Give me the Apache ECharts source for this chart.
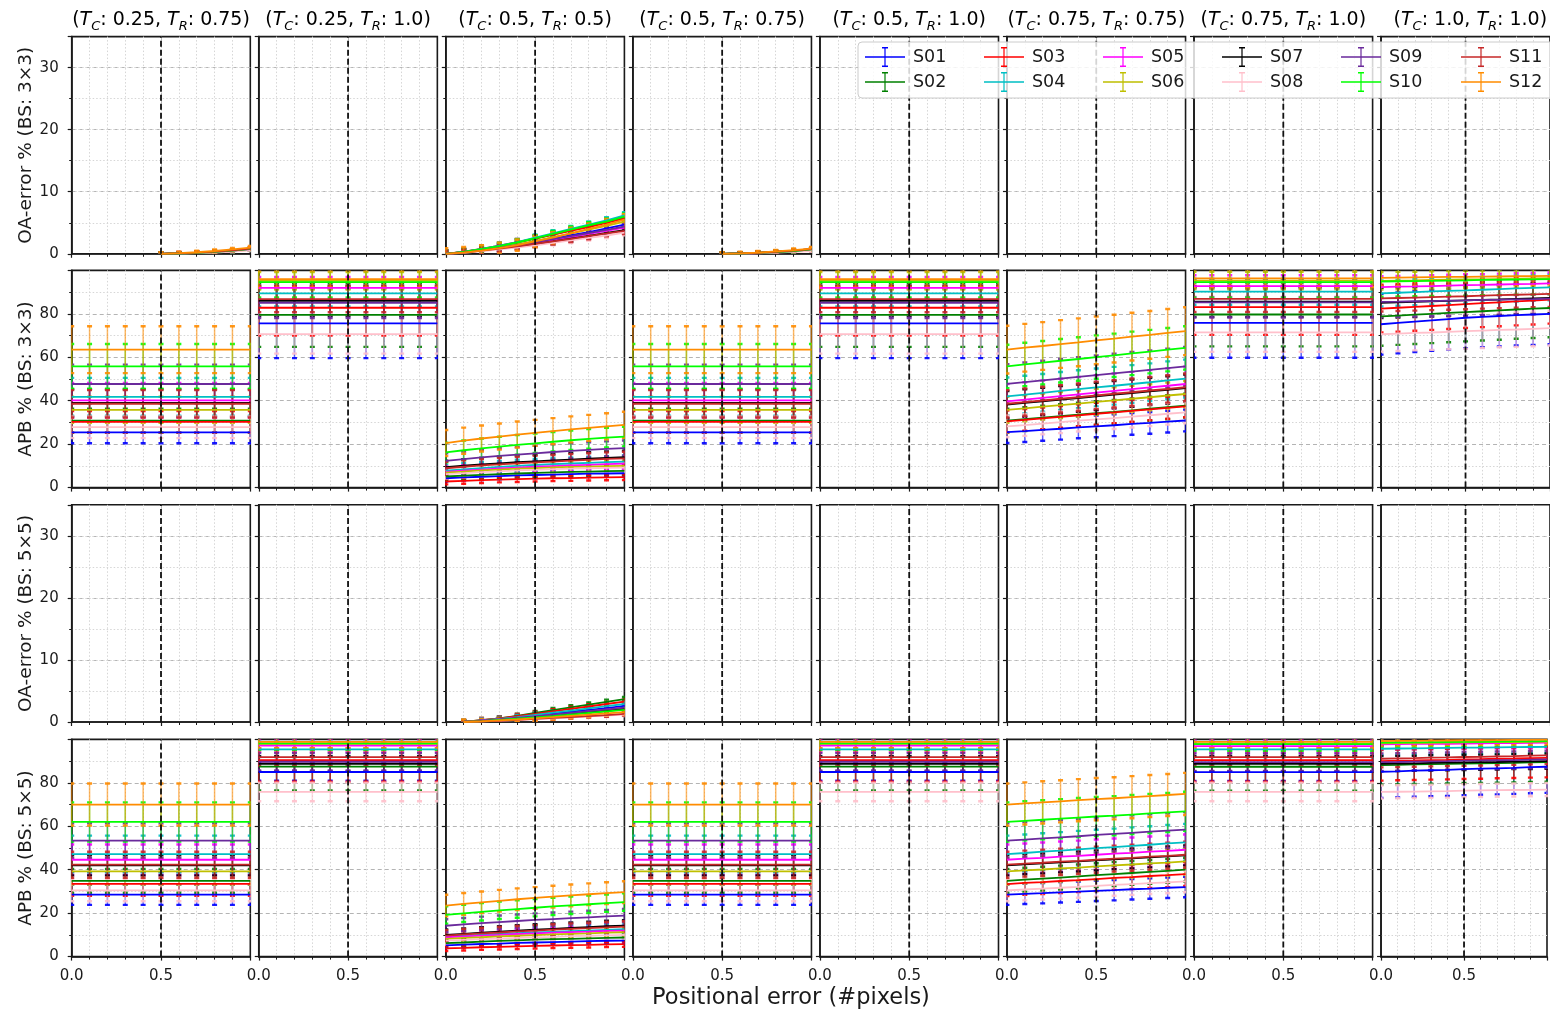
<!DOCTYPE html>
<html>
<head>
<meta charset="utf-8">
<script src="https://cdn.jsdelivr.net/npm/echarts/dist/echarts.min.js"></script>
<style>
  html, body { margin: 0; padding: 0; background: #ffffff; }
  #chart { width: 1550px; height: 1015px; }
</style>
</head>
<body>
<div id="chart"></div>
<script>
// ---------------------------------------------------------------------------
// Data
// ---------------------------------------------------------------------------
const posErr = [0.0, 0.1, 0.2, 0.3, 0.4, 0.5, 0.6, 0.7, 0.8, 0.9, 1.0];
const refPosErr = 0.5;

const seriesNames = ['S01', 'S02', 'S03', 'S04', 'S05', 'S06', 'S07', 'S08', 'S09', 'S10', 'S11', 'S12'];

const thrC = ['0.25', '0.25', '0.5', '0.5', '0.5', '0.75', '0.75', '1.0'];
const thrR = ['0.75', '1.0', '0.5', '0.75', '1.0', '0.75', '1.0', '1.0'];

const rowLabels = ['OA-error % (BS: 3×3)', 'APB % (BS: 3×3)', 'OA-error % (BS: 5×5)', 'APB % (BS: 5×5)'];
const xTitle = 'Positional error (#pixels)';

const oaMax = 35, oaStep = 10;
const apbMax = 100, apbStep = 20;

// OA-error, block size 3x3
const oa3_c1 = [
  [null,null,null,null,null,0,0.05,0.15,0.3,0.45,0.7],
  [null,null,null,null,null,0,0.05,0.15,0.3,0.5,0.75],
  [null,null,null,null,null,0,0.08,0.2,0.35,0.55,0.85],
  [null,null,null,null,null,0,0.05,0.15,0.3,0.5,0.75],
  [null,null,null,null,null,0,0.05,0.15,0.3,0.45,0.7],
  [null,null,null,null,null,0,0.05,0.12,0.25,0.45,0.65],
  [null,null,null,null,null,0,0.05,0.15,0.3,0.5,0.8],
  [null,null,null,null,null,0,0.03,0.1,0.2,0.35,0.55],
  [null,null,null,null,null,0,0.05,0.15,0.3,0.5,0.75],
  [null,null,null,null,null,0,0.05,0.15,0.3,0.5,0.8],
  [null,null,null,null,null,0,0.08,0.2,0.35,0.55,0.85],
  [null,null,null,null,null,0,0.1,0.25,0.45,0.7,1.0]
];
const oa3_c1_err = [0.15,0.15,0.2,0.15,0.15,0.15,0.2,0.1,0.15,0.2,0.2,0.25];

const oa3_c3 = [
  [0,0.25,0.6,1.0,1.45,1.95,2.45,3.0,3.5,4.1,4.7],
  [0,0.3,0.75,1.25,1.8,2.45,3.1,3.8,4.5,5.1,5.8],
  [0,0.35,0.8,1.3,1.9,2.5,3.1,3.7,4.3,5.0,5.7],
  [0,0.3,0.8,1.3,1.9,2.6,3.3,4.0,4.7,5.4,6.2],
  [0,0.25,0.55,0.95,1.35,1.8,2.25,2.7,3.2,3.7,4.2],
  [0,0.25,0.6,1.0,1.5,2.1,2.7,3.3,3.9,4.5,5.2],
  [0,0.2,0.5,0.85,1.2,1.6,2.0,2.45,2.9,3.35,3.8],
  [0,0.15,0.4,0.7,1.0,1.35,1.75,2.15,2.55,2.95,3.4],
  [0,0.25,0.6,1.0,1.4,1.85,2.35,2.85,3.35,3.85,4.4],
  [0,0.3,0.75,1.25,1.85,2.5,3.2,3.9,4.6,5.2,6.0],
  [0,0.2,0.5,0.85,1.2,1.6,2.0,2.4,2.85,3.3,3.7],
  [0,0.2,0.5,0.9,1.4,2.0,2.6,3.3,4.0,4.7,5.5]
];
const oa3_c3_err = [0.5,0.5,0.5,0.5,0.5,0.5,0.5,0.4,0.5,0.5,0.5,0.9];

const oa3_c4 = [
  [null,null,null,null,null,0,0.04,0.12,0.25,0.4,0.6],
  [null,null,null,null,null,0,0.05,0.14,0.28,0.45,0.7],
  [null,null,null,null,null,0,0.06,0.16,0.3,0.5,0.75],
  [null,null,null,null,null,0,0.05,0.14,0.28,0.45,0.7],
  [null,null,null,null,null,0,0.04,0.12,0.25,0.4,0.6],
  [null,null,null,null,null,0,0.04,0.1,0.22,0.38,0.55],
  [null,null,null,null,null,0,0.05,0.15,0.3,0.5,0.75],
  [null,null,null,null,null,0,0.03,0.08,0.18,0.3,0.45],
  [null,null,null,null,null,0,0.05,0.14,0.28,0.45,0.7],
  [null,null,null,null,null,0,0.05,0.14,0.28,0.45,0.7],
  [null,null,null,null,null,0,0.06,0.16,0.3,0.5,0.75],
  [null,null,null,null,null,0,0.08,0.2,0.38,0.6,0.85]
];
const oa3_c4_err = [0.15,0.15,0.2,0.15,0.15,0.15,0.2,0.1,0.15,0.2,0.2,0.25];

// APB, block size 3x3
const apb3_c1 = [
  [25.4,25.4,25.4,25.4,25.4,25.4,25.4,25.4,25.4,25.4,25.4],
  [30.8,30.8,30.8,30.8,30.8,30.8,30.8,30.8,30.8,30.8,30.8],
  [30.3,30.3,30.3,30.3,30.3,30.3,30.3,30.3,30.3,30.3,30.3],
  [41.8,41.8,41.8,41.8,41.8,41.8,41.8,41.8,41.8,41.8,41.8],
  [40.2,40.2,40.2,40.2,40.2,40.2,40.2,40.2,40.2,40.2,40.2],
  [35.8,35.8,35.8,35.8,35.8,35.8,35.8,35.8,35.8,35.8,35.8],
  [39.0,39.0,39.0,39.0,39.0,39.0,39.0,39.0,39.0,39.0,39.0],
  [27.8,27.8,27.8,27.8,27.8,27.8,27.8,27.8,27.8,27.8,27.8],
  [47.7,47.7,47.7,47.7,47.7,47.7,47.7,47.7,47.7,47.7,47.7],
  [55.8,55.8,55.8,55.8,55.8,55.8,55.8,55.8,55.8,55.8,55.8],
  [38.6,38.6,38.6,38.6,38.6,38.6,38.6,38.6,38.6,38.6,38.6],
  [63.5,63.5,63.5,63.5,63.5,63.5,63.5,63.5,63.5,63.5,63.5]
];
const apb3_c1_err = [5.0,5.5,5.0,8.7,8.0,6.0,6.3,5.0,8.9,10.3,6.3,10.8];

const apb3_c2 = [
  [75.6,75.6,75.6,75.6,75.6,75.6,75.6,75.6,75.6,75.6,75.6],
  [79.5,79.5,79.5,79.5,79.5,79.5,79.5,79.5,79.5,79.5,79.5],
  [82.8,82.8,82.8,82.8,82.8,82.8,82.8,82.8,82.8,82.8,82.8],
  [89.4,89.4,89.4,89.4,89.4,89.4,89.4,89.4,89.4,89.4,89.4],
  [92.0,92.0,92.0,92.0,92.0,92.0,92.0,92.0,92.0,92.0,92.0],
  [95.2,95.2,95.2,95.2,95.2,95.2,95.2,95.2,95.2,95.2,95.2],
  [86.0,86.0,86.0,86.0,86.0,86.0,86.0,86.0,86.0,86.0,86.0],
  [70.7,70.7,70.7,70.7,70.7,70.7,70.7,70.7,70.7,70.7,70.7],
  [85.1,85.1,85.1,85.1,85.1,85.1,85.1,85.1,85.1,85.1,85.1],
  [94.6,94.6,94.6,94.6,94.6,94.6,94.6,94.6,94.6,94.6,94.6],
  [86.8,86.8,86.8,86.8,86.8,86.8,86.8,86.8,86.8,86.8,86.8],
  [96.0,96.0,96.0,96.0,96.0,96.0,96.0,96.0,96.0,96.0,96.0]
];
const apb3_c2_err = [16.0,14.7,12.8,6.0,5.0,4.0,7.0,9.0,7.0,7.0,6.0,4.0];

const apb3_c3 = [
  [4.3,4.7,5.0,5.3,5.6,5.8,6.0,6.2,6.4,6.5,6.6],
  [5.1,5.5,5.9,6.2,6.5,6.8,7.0,7.2,7.4,7.6,7.7],
  [2.8,3.1,3.4,3.7,3.9,4.1,4.3,4.4,4.6,4.7,4.8],
  [7.8,8.4,9.0,9.5,10.0,10.4,10.8,11.1,11.4,11.7,12.0],
  [7.2,7.8,8.3,8.8,9.2,9.6,9.9,10.2,10.5,10.8,11.0],
  [6.9,7.4,7.9,8.3,8.7,9.0,9.3,9.5,9.7,9.9,10.0],
  [9.4,10.1,10.7,11.2,11.7,12.1,12.5,12.9,13.3,13.7,14.0],
  [6.2,6.7,7.1,7.5,7.9,8.2,8.5,8.7,8.9,9.1,9.2],
  [12.3,13.1,13.9,14.6,15.2,15.8,16.4,16.9,17.4,17.8,18.2],
  [16.2,17.2,18.1,18.9,19.7,20.4,21.1,21.8,22.4,23.0,23.5],
  [8.9,9.6,10.2,10.7,11.2,11.6,12.0,12.4,12.8,13.2,13.5],
  [20.5,21.6,22.6,23.5,24.4,25.2,26.0,26.8,27.5,28.2,28.9]
];
const apb3_c3_err = [1.5,1.8,1.3,2.8,2.5,2.4,3.0,2.0,3.5,4.5,3.0,6.0];

const apb3_c4 = [
  [25.4,25.4,25.4,25.4,25.4,25.4,25.4,25.4,25.4,25.4,25.4],
  [30.8,30.8,30.8,30.8,30.8,30.8,30.8,30.8,30.8,30.8,30.8],
  [30.3,30.3,30.3,30.3,30.3,30.3,30.3,30.3,30.3,30.3,30.3],
  [41.8,41.8,41.8,41.8,41.8,41.8,41.8,41.8,41.8,41.8,41.8],
  [40.2,40.2,40.2,40.2,40.2,40.2,40.2,40.2,40.2,40.2,40.2],
  [35.8,35.8,35.8,35.8,35.8,35.8,35.8,35.8,35.8,35.8,35.8],
  [39.0,39.0,39.0,39.0,39.0,39.0,39.0,39.0,39.0,39.0,39.0],
  [27.8,27.8,27.8,27.8,27.8,27.8,27.8,27.8,27.8,27.8,27.8],
  [47.7,47.7,47.7,47.7,47.7,47.7,47.7,47.7,47.7,47.7,47.7],
  [55.8,55.8,55.8,55.8,55.8,55.8,55.8,55.8,55.8,55.8,55.8],
  [38.6,38.6,38.6,38.6,38.6,38.6,38.6,38.6,38.6,38.6,38.6],
  [63.5,63.5,63.5,63.5,63.5,63.5,63.5,63.5,63.5,63.5,63.5]
];
const apb3_c4_err = [5.0,5.5,5.0,8.7,8.0,6.0,6.3,5.0,8.9,10.3,6.3,10.8];

const apb3_c5 = [
  [75.6,75.6,75.6,75.6,75.6,75.6,75.6,75.6,75.6,75.6,75.6],
  [79.5,79.5,79.5,79.5,79.5,79.5,79.5,79.5,79.5,79.5,79.5],
  [82.8,82.8,82.8,82.8,82.8,82.8,82.8,82.8,82.8,82.8,82.8],
  [89.4,89.4,89.4,89.4,89.4,89.4,89.4,89.4,89.4,89.4,89.4],
  [92.0,92.0,92.0,92.0,92.0,92.0,92.0,92.0,92.0,92.0,92.0],
  [95.2,95.2,95.2,95.2,95.2,95.2,95.2,95.2,95.2,95.2,95.2],
  [86.0,86.0,86.0,86.0,86.0,86.0,86.0,86.0,86.0,86.0,86.0],
  [70.7,70.7,70.7,70.7,70.7,70.7,70.7,70.7,70.7,70.7,70.7],
  [85.1,85.1,85.1,85.1,85.1,85.1,85.1,85.1,85.1,85.1,85.1],
  [94.6,94.6,94.6,94.6,94.6,94.6,94.6,94.6,94.6,94.6,94.6],
  [86.8,86.8,86.8,86.8,86.8,86.8,86.8,86.8,86.8,86.8,86.8],
  [96.0,96.0,96.0,96.0,96.0,96.0,96.0,96.0,96.0,96.0,96.0]
];
const apb3_c5_err = [16.0,14.7,12.8,6.0,5.0,4.0,7.0,9.0,7.0,7.0,6.0,4.0];

const apb3_c6 = [
  [25.5,26.0,26.6,27.1,27.7,28.2,28.7,29.3,29.8,30.4,30.9],
  [30.8,31.5,32.2,32.9,33.6,34.3,34.9,35.6,36.3,37.0,37.7],
  [30.5,31.2,31.9,32.6,33.3,34.0,34.6,35.3,36.0,36.7,37.4],
  [42.0,42.8,43.6,44.5,45.3,46.1,46.9,47.7,48.5,49.4,50.2],
  [39.7,40.5,41.3,42.1,42.9,43.7,44.5,45.3,46.1,46.9,47.7],
  [35.8,36.5,37.3,38.0,38.7,39.5,40.2,40.9,41.6,42.4,43.1],
  [38.2,39.0,39.7,40.5,41.2,42.0,42.8,43.5,44.3,45.0,45.8],
  [28.2,28.8,29.5,30.1,30.8,31.4,32.0,32.7,33.3,34.0,34.6],
  [47.8,48.6,49.4,50.2,51.0,51.8,52.6,53.4,54.2,55.0,55.8],
  [55.8,56.7,57.5,58.4,59.2,60.1,60.9,61.8,62.6,63.5,64.3],
  [38.6,39.4,40.1,40.9,41.6,42.4,43.2,43.9,44.7,45.4,46.2],
  [63.5,64.4,65.2,66.1,66.9,67.8,68.6,69.5,70.3,71.2,72.0]
];
const apb3_c6_err = [5.0,5.5,5.0,8.7,8.0,6.0,6.3,5.0,9.0,10.0,6.3,11.0];

const apb3_c7 = [
  [75.8,75.8,75.8,75.8,75.8,75.8,75.8,75.8,75.8,75.8,75.8],
  [79.7,79.7,79.7,79.7,79.7,79.7,79.7,79.7,79.7,79.7,79.7],
  [83.1,83.1,83.1,83.1,83.1,83.1,83.1,83.1,83.1,83.1,83.1],
  [90.2,90.2,90.2,90.2,90.2,90.2,90.2,90.2,90.2,90.2,90.2],
  [92.8,92.8,92.8,92.8,92.8,92.8,92.8,92.8,92.8,92.8,92.8],
  [95.3,95.3,95.3,95.3,95.3,95.3,95.3,95.3,95.3,95.3,95.3],
  [85.6,85.6,85.6,85.6,85.6,85.6,85.6,85.6,85.6,85.6,85.6],
  [71.5,71.5,71.5,71.5,71.5,71.5,71.5,71.5,71.5,71.5,71.5],
  [85.3,85.3,85.3,85.3,85.3,85.3,85.3,85.3,85.3,85.3,85.3],
  [94.6,94.6,94.6,94.6,94.6,94.6,94.6,94.6,94.6,94.6,94.6],
  [86.9,86.9,86.9,86.9,86.9,86.9,86.9,86.9,86.9,86.9,86.9],
  [96.3,96.3,96.3,96.3,96.3,96.3,96.3,96.3,96.3,96.3,96.3]
];
const apb3_c7_err = [16.0,14.7,12.8,6.0,5.0,4.0,7.0,9.0,7.0,7.0,6.0,4.0];

const apb3_c8 = [
  [75.2,75.8,76.4,77.0,77.6,78.2,78.6,79.0,79.4,79.7,80.0],
  [78.8,79.2,79.6,80.0,80.4,80.8,81.2,81.6,82.0,82.4,82.7],
  [82.4,82.8,83.2,83.6,84.0,84.5,84.9,85.3,85.7,86.1,86.5],
  [89.4,89.7,90.0,90.3,90.6,90.8,91.1,91.4,91.7,92.0,92.2],
  [92.3,92.5,92.6,92.8,93.0,93.2,93.3,93.5,93.7,93.8,94.0],
  [95.2,95.3,95.4,95.6,95.7,95.8,95.9,96.0,96.1,96.3,96.4],
  [85.1,85.3,85.5,85.8,86.0,86.2,86.4,86.6,86.9,87.1,87.3],
  [70.6,70.9,71.2,71.4,71.7,72.0,72.3,72.6,72.8,73.1,73.4],
  [85.5,85.6,85.8,85.9,86.1,86.2,86.4,86.5,86.7,86.8,87.0],
  [94.9,95.0,95.1,95.2,95.3,95.4,95.6,95.7,95.8,95.9,96.0],
  [87.1,87.3,87.5,87.7,87.9,88.1,88.4,88.6,88.8,89.0,89.2],
  [96.6,96.7,96.8,96.9,97.0,97.0,97.1,97.2,97.3,97.4,97.5]
];
const apb3_c8_err = [14.0,13.5,11.0,6.0,5.0,4.0,7.0,8.0,7.0,7.0,6.0,4.0];

// OA-error, block size 5x5
const oa5_c3 = [
  [null,0,0.2,0.45,0.75,1.05,1.35,1.65,1.95,2.25,2.6],
  [null,0,0.3,0.6,1.0,1.45,1.9,2.35,2.8,3.25,3.7],
  [null,0,0.3,0.6,0.95,1.3,1.7,2.1,2.5,2.9,3.3],
  [null,0,0.25,0.5,0.8,1.15,1.5,1.85,2.2,2.55,2.9],
  [null,0,0.2,0.4,0.65,0.9,1.15,1.4,1.7,2.0,2.3],
  [null,0,0.15,0.35,0.55,0.8,1.0,1.25,1.5,1.75,2.0],
  [null,0,0.15,0.35,0.6,0.8,1.05,1.3,1.55,1.8,2.1],
  [null,0,0.1,0.2,0.3,0.45,0.6,0.75,0.9,1.05,1.2],
  [null,0,0.2,0.4,0.65,0.9,1.15,1.45,1.75,2.05,2.3],
  [null,0,0.15,0.35,0.55,0.75,0.95,1.2,1.45,1.7,1.95],
  [null,0,0.1,0.2,0.35,0.5,0.65,0.8,0.95,1.1,1.3],
  [null,0,0.1,0.25,0.4,0.6,0.8,1.0,1.2,1.4,1.6]
];
const oa5_c3_err = [0.35,0.35,0.35,0.35,0.3,0.3,0.3,0.25,0.3,0.3,0.25,0.4];

// APB, block size 5x5
const apb5_c1 = [
  [28.5,28.5,28.5,28.5,28.5,28.5,28.5,28.5,28.5,28.5,28.5],
  [34.9,34.9,34.9,34.9,34.9,34.9,34.9,34.9,34.9,34.9,34.9],
  [33.5,33.5,33.5,33.5,33.5,33.5,33.5,33.5,33.5,33.5,33.5],
  [47.2,47.2,47.2,47.2,47.2,47.2,47.2,47.2,47.2,47.2,47.2],
  [44.6,44.6,44.6,44.6,44.6,44.6,44.6,44.6,44.6,44.6,44.6],
  [39.2,39.2,39.2,39.2,39.2,39.2,39.2,39.2,39.2,39.2,39.2],
  [42.0,42.0,42.0,42.0,42.0,42.0,42.0,42.0,42.0,42.0,42.0],
  [30.5,30.5,30.5,30.5,30.5,30.5,30.5,30.5,30.5,30.5,30.5],
  [53.4,53.4,53.4,53.4,53.4,53.4,53.4,53.4,53.4,53.4,53.4],
  [62.0,62.0,62.0,62.0,62.0,62.0,62.0,62.0,62.0,62.0,62.0],
  [42.3,42.3,42.3,42.3,42.3,42.3,42.3,42.3,42.3,42.3,42.3],
  [70.0,70.0,70.0,70.0,70.0,70.0,70.0,70.0,70.0,70.0,70.0]
];
const apb5_c1_err = [4.7,5.5,5.5,8.5,7.0,6.0,4.6,5.0,8.0,9.0,6.0,9.7];

const apb5_c2 = [
  [85.0,85.0,85.0,85.0,85.0,85.0,85.0,85.0,85.0,85.0,85.0],
  [87.5,87.5,87.5,87.5,87.5,87.5,87.5,87.5,87.5,87.5,87.5],
  [90.5,90.5,90.5,90.5,90.5,90.5,90.5,90.5,90.5,90.5,90.5],
  [95.4,95.4,95.4,95.4,95.4,95.4,95.4,95.4,95.4,95.4,95.4],
  [97.2,97.2,97.2,97.2,97.2,97.2,97.2,97.2,97.2,97.2,97.2],
  [98.0,98.0,98.0,98.0,98.0,98.0,98.0,98.0,98.0,98.0,98.0],
  [88.8,88.8,88.8,88.8,88.8,88.8,88.8,88.8,88.8,88.8,88.8],
  [75.8,75.8,75.8,75.8,75.8,75.8,75.8,75.8,75.8,75.8,75.8],
  [89.7,89.7,89.7,89.7,89.7,89.7,89.7,89.7,89.7,89.7,89.7],
  [98.2,98.2,98.2,98.2,98.2,98.2,98.2,98.2,98.2,98.2,98.2],
  [91.8,91.8,91.8,91.8,91.8,91.8,91.8,91.8,91.8,91.8,91.8],
  [98.9,98.9,98.9,98.9,98.9,98.9,98.9,98.9,98.9,98.9,98.9]
];
const apb5_c2_err = [4.0,11.0,10.0,3.5,3.0,3.0,3.5,4.3,4.0,3.0,4.0,3.0];

const apb5_c3 = [
  [5.2,5.5,5.8,6.0,6.3,6.5,6.7,6.9,7.1,7.3,7.4],
  [6.2,6.5,6.9,7.2,7.5,7.8,8.0,8.2,8.4,8.6,8.8],
  [3.8,4.0,4.3,4.5,4.7,4.9,5.1,5.3,5.4,5.6,5.7],
  [9.2,9.6,10.0,10.4,10.8,11.1,11.4,11.7,12.0,12.3,12.6],
  [8.9,9.3,9.7,10.0,10.4,10.7,11.0,11.3,11.5,11.8,12.0],
  [8.2,8.6,8.9,9.3,9.6,9.9,10.2,10.5,10.7,11.0,11.2],
  [10.0,10.5,11.0,11.5,12.0,12.4,12.8,13.2,13.6,14.0,14.3],
  [7.4,7.7,8.0,8.3,8.6,8.9,9.1,9.4,9.6,9.8,10.0],
  [14.2,14.8,15.4,15.9,16.4,16.9,17.3,17.7,18.1,18.5,18.9],
  [19.2,19.9,20.6,21.3,21.9,22.5,23.1,23.6,24.1,24.6,25.1],
  [9.7,10.2,10.7,11.1,11.6,12.0,12.4,12.8,13.1,13.5,13.8],
  [23.5,24.3,25.0,25.7,26.4,27.0,27.6,28.2,28.7,29.2,29.7]
];
const apb5_c3_err = [1.3,1.5,1.2,2.2,2.2,2.0,2.5,1.8,3.0,4.0,2.5,5.0];

const apb5_c4 = [
  [28.5,28.5,28.5,28.5,28.5,28.5,28.5,28.5,28.5,28.5,28.5],
  [34.9,34.9,34.9,34.9,34.9,34.9,34.9,34.9,34.9,34.9,34.9],
  [33.5,33.5,33.5,33.5,33.5,33.5,33.5,33.5,33.5,33.5,33.5],
  [47.2,47.2,47.2,47.2,47.2,47.2,47.2,47.2,47.2,47.2,47.2],
  [44.6,44.6,44.6,44.6,44.6,44.6,44.6,44.6,44.6,44.6,44.6],
  [39.2,39.2,39.2,39.2,39.2,39.2,39.2,39.2,39.2,39.2,39.2],
  [42.0,42.0,42.0,42.0,42.0,42.0,42.0,42.0,42.0,42.0,42.0],
  [30.5,30.5,30.5,30.5,30.5,30.5,30.5,30.5,30.5,30.5,30.5],
  [53.4,53.4,53.4,53.4,53.4,53.4,53.4,53.4,53.4,53.4,53.4],
  [62.0,62.0,62.0,62.0,62.0,62.0,62.0,62.0,62.0,62.0,62.0],
  [42.3,42.3,42.3,42.3,42.3,42.3,42.3,42.3,42.3,42.3,42.3],
  [70.0,70.0,70.0,70.0,70.0,70.0,70.0,70.0,70.0,70.0,70.0]
];
const apb5_c4_err = [4.7,5.5,5.5,8.5,7.0,6.0,4.6,5.0,8.0,9.0,6.0,9.7];

const apb5_c5 = [
  [85.0,85.0,85.0,85.0,85.0,85.0,85.0,85.0,85.0,85.0,85.0],
  [87.5,87.5,87.5,87.5,87.5,87.5,87.5,87.5,87.5,87.5,87.5],
  [90.5,90.5,90.5,90.5,90.5,90.5,90.5,90.5,90.5,90.5,90.5],
  [95.4,95.4,95.4,95.4,95.4,95.4,95.4,95.4,95.4,95.4,95.4],
  [97.2,97.2,97.2,97.2,97.2,97.2,97.2,97.2,97.2,97.2,97.2],
  [98.0,98.0,98.0,98.0,98.0,98.0,98.0,98.0,98.0,98.0,98.0],
  [88.8,88.8,88.8,88.8,88.8,88.8,88.8,88.8,88.8,88.8,88.8],
  [75.8,75.8,75.8,75.8,75.8,75.8,75.8,75.8,75.8,75.8,75.8],
  [89.7,89.7,89.7,89.7,89.7,89.7,89.7,89.7,89.7,89.7,89.7],
  [98.2,98.2,98.2,98.2,98.2,98.2,98.2,98.2,98.2,98.2,98.2],
  [91.8,91.8,91.8,91.8,91.8,91.8,91.8,91.8,91.8,91.8,91.8],
  [98.9,98.9,98.9,98.9,98.9,98.9,98.9,98.9,98.9,98.9,98.9]
];
const apb5_c5_err = [4.0,11.0,10.0,3.5,3.0,3.0,3.5,4.3,4.0,3.0,4.0,3.0];

const apb5_c6 = [
  [28.5,28.9,29.2,29.6,29.9,30.3,30.6,31.0,31.3,31.7,32.0],
  [34.9,35.4,35.9,36.4,36.9,37.5,38.0,38.5,39.0,39.5,40.0],
  [33.4,33.9,34.3,34.8,35.2,35.7,36.2,36.6,37.1,37.5,38.0],
  [47.2,47.7,48.3,48.8,49.4,49.9,50.4,51.0,51.5,52.1,52.6],
  [44.6,45.1,45.5,46.0,46.4,46.9,47.4,47.8,48.3,48.7,49.2],
  [39.2,39.7,40.1,40.6,41.0,41.5,42.0,42.4,42.9,43.3,43.8],
  [42.0,42.5,42.9,43.4,43.8,44.3,44.8,45.2,45.7,46.1,46.6],
  [30.5,30.9,31.3,31.7,32.1,32.6,33.0,33.4,33.8,34.2,34.6],
  [53.4,53.9,54.4,54.9,55.4,56.0,56.5,57.0,57.5,58.0,58.5],
  [62.0,62.5,63.0,63.5,64.0,64.5,64.9,65.4,65.9,66.4,66.9],
  [42.3,42.8,43.2,43.7,44.1,44.6,45.1,45.5,46.0,46.4,46.9],
  [70.0,70.5,71.0,71.5,72.0,72.5,72.9,73.4,73.9,74.4,74.9]
];
const apb5_c6_err = [4.7,5.5,5.5,8.5,7.0,6.0,4.6,5.0,8.0,9.0,6.0,9.7];

const apb5_c7 = [
  [84.9,84.9,84.9,84.9,84.9,84.9,84.9,84.9,84.9,84.9,84.9],
  [87.4,87.4,87.4,87.4,87.4,87.4,87.4,87.4,87.4,87.4,87.4],
  [90.5,90.5,90.5,90.5,90.5,90.5,90.5,90.5,90.5,90.5,90.5],
  [95.4,95.4,95.4,95.4,95.4,95.4,95.4,95.4,95.4,95.4,95.4],
  [96.9,96.9,96.9,96.9,96.9,96.9,96.9,96.9,96.9,96.9,96.9],
  [98.0,98.0,98.0,98.0,98.0,98.0,98.0,98.0,98.0,98.0,98.0],
  [88.8,88.8,88.8,88.8,88.8,88.8,88.8,88.8,88.8,88.8,88.8],
  [75.8,75.8,75.8,75.8,75.8,75.8,75.8,75.8,75.8,75.8,75.8],
  [89.5,89.5,89.5,89.5,89.5,89.5,89.5,89.5,89.5,89.5,89.5],
  [97.8,97.8,97.8,97.8,97.8,97.8,97.8,97.8,97.8,97.8,97.8],
  [91.8,91.8,91.8,91.8,91.8,91.8,91.8,91.8,91.8,91.8,91.8],
  [98.9,98.9,98.9,98.9,98.9,98.9,98.9,98.9,98.9,98.9,98.9]
];
const apb5_c7_err = [4.0,11.0,10.0,3.5,3.0,3.0,3.5,4.3,4.0,3.0,4.0,3.0];

const apb5_c8 = [
  [85.1,85.3,85.6,85.8,86.0,86.3,86.5,86.7,86.9,87.2,87.4],
  [88.2,88.3,88.5,88.6,88.7,88.9,89.0,89.1,89.2,89.4,89.5],
  [90.0,90.2,90.3,90.5,90.6,90.8,90.9,91.1,91.2,91.4,91.5],
  [95.7,95.8,95.9,96.0,96.1,96.2,96.2,96.3,96.4,96.5,96.6],
  [97.7,97.8,97.9,97.9,98.0,98.1,98.2,98.3,98.3,98.4,98.5],
  [98.2,98.3,98.4,98.4,98.5,98.6,98.7,98.8,98.8,98.9,99.0],
  [88.8,88.9,89.0,89.2,89.3,89.4,89.5,89.6,89.8,89.9,90.0],
  [75.8,75.9,76.0,76.1,76.2,76.4,76.5,76.6,76.7,76.8,76.9],
  [89.5,89.6,89.8,89.9,90.0,90.2,90.3,90.4,90.5,90.7,90.8],
  [98.5,98.6,98.6,98.7,98.8,98.9,98.9,99.0,99.1,99.1,99.2],
  [91.1,91.3,91.4,91.6,91.7,91.9,92.0,92.2,92.3,92.5,92.6],
  [99.2,99.3,99.3,99.4,99.5,99.6,99.6,99.7,99.8,99.8,99.9]
];
const apb5_c8_err = [12.0,9.0,9.0,3.0,2.5,2.0,3.5,3.0,4.0,2.5,4.0,2.0];

// ---------------------------------------------------------------------------
// Styling and layout
// ---------------------------------------------------------------------------
const seriesColors = ['#0000ff', '#008000', '#ff0000', '#00bfc4', '#ff00ff', '#bfbf00',
                      '#000000', '#ffc0cb', '#6a2a9c', '#00ff00', '#c62828', '#ff8c00'];
const FONT = 'DejaVu Sans';
const INK = '#1a1a1a';

const PANEL_LEFT0 = 71.7, PANEL_PITCH = 187.05, PANEL_W = 178.6, PANEL_H = 217.2;
const ROW_TOPS = [36.6, 270.4, 504.8, 739.4];

const rowSpecs = [
  { label: rowLabels[0], max: oaMax, step: oaStep, minorStep: 5,
    panels: [[oa3_c1, oa3_c1_err], null, [oa3_c3, oa3_c3_err], [oa3_c4, oa3_c4_err], null, null, null, null] },
  { label: rowLabels[1], max: apbMax, step: apbStep, minorStep: 0,
    panels: [[apb3_c1, apb3_c1_err], [apb3_c2, apb3_c2_err], [apb3_c3, apb3_c3_err], [apb3_c4, apb3_c4_err],
             [apb3_c5, apb3_c5_err], [apb3_c6, apb3_c6_err], [apb3_c7, apb3_c7_err], [apb3_c8, apb3_c8_err]] },
  { label: rowLabels[2], max: oaMax, step: oaStep, minorStep: 5,
    panels: [null, null, [oa5_c3, oa5_c3_err], null, null, null, null, null] },
  { label: rowLabels[3], max: apbMax, step: apbStep, minorStep: 0,
    panels: [[apb5_c1, apb5_c1_err], [apb5_c2, apb5_c2_err], [apb5_c3, apb5_c3_err], [apb5_c4, apb5_c4_err],
             [apb5_c5, apb5_c5_err], [apb5_c6, apb5_c6_err], [apb5_c7, apb5_c7_err], [apb5_c8, apb5_c8_err]] }
];

// vertical error bar with caps, drawn in the series colour
function renderErrorBar(params, api) {
  const x = api.value(0), y = api.value(1), e = api.value(2);
  const hi = api.coord([x, y + e]);
  const lo = api.coord([x, y - e]);
  const color = api.visual('color');
  const cap = 2.5;
  return {
    type: 'group',
    children: [
      { type: 'line', shape: { x1: hi[0], y1: hi[1], x2: lo[0], y2: lo[1] },
        style: { stroke: color, lineWidth: 1.5, opacity: 0.6 } },
      { type: 'line', shape: { x1: hi[0] - cap, y1: hi[1], x2: hi[0] + cap, y2: hi[1] },
        style: { stroke: color, lineWidth: 2.4, opacity: 0.9 } },
      { type: 'line', shape: { x1: lo[0] - cap, y1: lo[1], x2: lo[0] + cap, y2: lo[1] },
        style: { stroke: color, lineWidth: 2.4, opacity: 0.9 } }
    ]
  };
}

const gridLineMajor = { color: '#b4b4b4', type: [4, 3], width: 1 };
const gridLineMinor = { color: '#d6d6d6', type: [1.5, 2], width: 1 };

const grid = [], xAxis = [], yAxis = [], series = [];

rowSpecs.forEach((row, r) => {
  for (let c = 0; c < thrC.length; c++) {
    const gi = grid.length;
    grid.push({
      left: PANEL_LEFT0 + c * PANEL_PITCH, top: ROW_TOPS[r], width: PANEL_W, height: PANEL_H,
      show: true, backgroundColor: '#ffffff', borderColor: INK, borderWidth: 1.6
    });

    xAxis.push({
      gridIndex: gi, type: 'value', min: 0, max: 1, interval: 0.5,
      axisLine: { show: true, onZero: false, lineStyle: { color: INK, width: 1.6 } },
      axisTick: { show: true, length: 4, lineStyle: { color: INK, width: 1.2 } },
      minorTick: { show: true, splitNumber: 5, length: 3, lineStyle: { color: INK, width: 1 } },
      splitLine: { show: true, showMinLine: false, showMaxLine: false, lineStyle: gridLineMajor },
      minorSplitLine: { show: true, lineStyle: gridLineMinor },
      axisLabel: {
        show: r === rowSpecs.length - 1, fontFamily: FONT, fontSize: 15, color: INK, margin: 12,
        formatter: v => (v >= 1 ? '' : v.toFixed(1))
      }
    });

    const yi = yAxis.length;
    yAxis.push({
      gridIndex: gi, type: 'value', min: 0, max: row.max, interval: row.step, position: 'left',
      axisLine: { show: true, onZero: false, lineStyle: { color: INK, width: 1.6 } },
      axisTick: { show: true, length: 4, lineStyle: { color: INK, width: 1.2 } },
      minorTick: { show: row.minorStep === 0, splitNumber: 2, length: 2.5, lineStyle: { color: INK, width: 1 } },
      splitLine: { show: true, showMinLine: false, showMaxLine: false, lineStyle: gridLineMajor },
      minorSplitLine: { show: row.minorStep === 0, lineStyle: gridLineMinor },
      axisLabel: {
        show: c === 0, fontFamily: FONT, fontSize: 15, color: INK, margin: 13,
        formatter: v => (v >= row.max ? '' : String(v))
      },
      name: c === 0 ? row.label : '', nameLocation: 'middle', nameGap: 36, nameRotate: 90,
      nameTextStyle: { fontFamily: FONT, fontSize: 18.5, color: INK }
    });
    if (row.minorStep) {
      // finer ticks and dotted grid for the OA rows (the top of the range is not a whole step)
      yAxis.push({
        gridIndex: gi, type: 'value', min: 0, max: row.max, interval: row.minorStep, position: 'left',
        axisLine: { show: false }, axisLabel: { show: false },
        axisTick: { show: true, length: 2.5, lineStyle: { color: INK, width: 1 } },
        splitLine: { show: true, showMinLine: false, showMaxLine: false, lineStyle: gridLineMinor }
      });
    }

    const panel = row.panels[c];
    if (panel) {
      const [vals, errs] = panel;
      vals.forEach((ys, s) => {
        const pts = [];
        posErr.forEach((x, i) => { if (ys[i] !== null) pts.push([x, ys[i], errs[s]]); });
        series.push({
          type: 'custom', name: seriesNames[s], xAxisIndex: gi, yAxisIndex: yi,
          renderItem: renderErrorBar, data: pts, clip: true, silent: true,
          encode: { x: 0, y: 1 }, itemStyle: { color: seriesColors[s] }, z: 2
        });
        series.push({
          type: 'line', name: seriesNames[s], xAxisIndex: gi, yAxisIndex: yi,
          data: pts.map(p => [p[0], p[1]]), showSymbol: false, clip: true, silent: true,
          lineStyle: { color: seriesColors[s], width: 1.8 }, itemStyle: { color: seriesColors[s] }, z: 2
        });
      });
    }

    // dashed reference at half a pixel of positional error
    series.push({
      type: 'line', name: 'ref', xAxisIndex: gi, yAxisIndex: yi, silent: true, showSymbol: false,
      data: [[refPosErr, 0], [refPosErr, row.max]],
      lineStyle: { color: '#111111', width: 1.8, type: [6, 3] }, z: 3
    });
  }
});

// legend: six columns of two entries, drawn over the first row
const ERR_ICON = 'path://M0,9.2H40V10.8H0Z M19.4,1.6H20.6V18.4H19.4Z M17,0H23V1.6H17Z M17,18.4H23V20H17Z';
const legendLefts = [865, 984, 1103, 1222, 1341, 1461];
const legend = legendLefts.map((left, k) => ({
  orient: 'vertical', left: left, top: 47, padding: 0, itemGap: 5,
  itemWidth: 40, itemHeight: 20, icon: ERR_ICON, z: 20,
  textStyle: { fontFamily: FONT, fontSize: 17.5, color: INK, padding: [0, 0, 0, 3] },
  data: [2 * k, 2 * k + 1].map(i => ({ name: seriesNames[i], itemStyle: { color: seriesColors[i], borderWidth: 0 } }))
}));

// panel titles with italic T and subscripts
const titleRich = {
  n: { fontFamily: FONT, fontSize: 19, color: INK, lineHeight: 26, verticalAlign: 'middle' },
  i: { fontFamily: FONT, fontSize: 19, fontStyle: 'italic', color: INK, lineHeight: 26, verticalAlign: 'middle' },
  s: { fontFamily: FONT, fontSize: 13, fontStyle: 'italic', color: INK, lineHeight: 26, verticalAlign: 'bottom' }
};
const graphic = [];
thrC.forEach((tc, c) => {
  graphic.push({
    type: 'text', x: PANEL_LEFT0 + c * PANEL_PITCH + PANEL_W / 2, y: 20, z: 10,
    style: {
      text: '{n|(}{i|T}{s|C}{n|: ' + tc + ', }{i|T}{s|R}{n|: ' + thrR[c] + ')}',
      rich: titleRich, align: 'center', verticalAlign: 'middle'
    }
  });
});
graphic.push({
  type: 'text', x: 791, y: 998, z: 10,
  style: { text: xTitle, fontFamily: FONT, fontSize: 22.5, fill: INK, align: 'center', verticalAlign: 'middle' }
});
graphic.push({
  type: 'rect', x: 858, y: 42, z: 10, silent: true,
  shape: { width: 720, height: 56, r: 4 },
  style: { fill: 'rgba(255,255,255,0.82)', stroke: '#cccccc', lineWidth: 1 }
});

const chart = echarts.init(document.getElementById('chart'), null, { renderer: 'canvas' });
chart.setOption({
  animation: false,
  backgroundColor: '#ffffff',
  grid: grid,
  xAxis: xAxis,
  yAxis: yAxis,
  legend: legend,
  graphic: graphic,
  series: series
});
</script>
</body>
</html>
